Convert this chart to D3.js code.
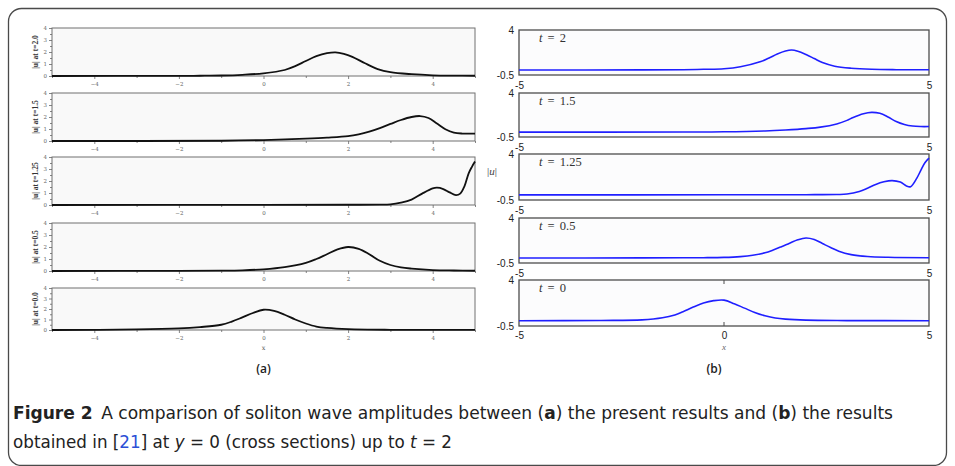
<!DOCTYPE html>
<html><head><meta charset="utf-8">
<script src="https://cdn.jsdelivr.net/npm/d3@7"></script>
<style>body{margin:0;background:#fff}svg{display:block}</style>
</head><body>
<svg id="fig" width="955" height="466"></svg>
<script>
// ---- (a) present results: |u| at y = 0, one panel per time ----
const presentLabels = ["|u| at t=2.0", "|u| at t=1.5", "|u| at t=1.25", "|u| at t=0.5", "|u| at t=0.0"];
const presentT20x = [-5, -2, -1.5, -1, -0.5, 0, 0.5, 0.75, 1.0, 1.25, 1.5, 1.7, 1.9, 2.1, 2.4, 2.7, 3.0, 3.5, 4.0, 4.5, 5];
const presentT20y = [0, 0.01, 0.02, 0.04, 0.1, 0.22, 0.5, 0.82, 1.25, 1.65, 1.9, 1.97, 1.85, 1.6, 1.06, 0.58, 0.32, 0.15, 0.06, 0.03, 0.02];
const presentT15x = [-5, -1, 0, 1, 1.5, 2, 2.25, 2.5, 2.75, 3.0, 3.25, 3.5, 3.7, 3.9, 4.1, 4.3, 4.5, 4.7, 5];
const presentT15y = [0, 0.02, 0.08, 0.2, 0.28, 0.4, 0.55, 0.78, 1.08, 1.42, 1.75, 2.0, 2.08, 1.92, 1.45, 0.98, 0.7, 0.62, 0.62];
const presentT125x = [-5, 0, 2, 2.75, 3.0, 3.25, 3.5, 3.75, 4.0, 4.1, 4.25, 4.4, 4.55, 4.65, 4.75, 4.85, 4.93, 5];
const presentT125y = [0, 0.01, 0.02, 0.03, 0.06, 0.2, 0.45, 0.95, 1.38, 1.44, 1.33, 1.05, 0.83, 0.95, 1.55, 2.64, 3.2, 3.62];
const presentT05x = [-5, -2, -1, -0.5, 0, 0.5, 1.0, 1.25, 1.5, 1.75, 2.0, 2.25, 2.5, 2.75, 3.0, 3.25, 3.5, 4.0, 4.5, 5];
const presentT05y = [0, 0.01, 0.03, 0.06, 0.14, 0.32, 0.68, 1.0, 1.4, 1.8, 2.0, 1.85, 1.4, 0.85, 0.5, 0.3, 0.2, 0.08, 0.04, 0.02];
const presentT00x = [-5, -3, -2, -1.5, -1, -0.75, -0.5, -0.25, 0, 0.25, 0.5, 0.75, 1.0, 1.25, 1.5, 2, 3, 5];
const presentT00y = [0, 0.05, 0.15, 0.28, 0.5, 0.8, 1.2, 1.62, 1.93, 1.82, 1.45, 1.0, 0.62, 0.33, 0.2, 0.08, 0.02, 0.01];

// ---- (b) results of [21] ----
const referenceLabels = ["2", "1.5", "1.25", "0.5", "0"];
const referenceT2x = [-5, -2, -1, -0.5, 0, 0.4, 0.9, 1.1, 1.3, 1.5, 1.65, 1.8, 2.0, 2.2, 2.4, 2.7, 3.1, 3.6, 4.2, 5];
const referenceT2y = [0, 0.01, 0.03, 0.07, 0.13, 0.33, 0.85, 1.2, 1.6, 1.9, 2.0, 1.88, 1.55, 1.15, 0.74, 0.38, 0.18, 0.07, 0.03, 0.02];
const referenceT15x = [-5, -1, 0, 1, 1.5, 2.0, 2.35, 2.75, 3.0, 3.15, 3.4, 3.6, 3.8, 4.0, 4.2, 4.4, 4.6, 4.8, 5];
const referenceT15y = [0, 0.01, 0.03, 0.12, 0.22, 0.36, 0.51, 0.84, 1.2, 1.5, 1.88, 2.02, 1.92, 1.55, 1.08, 0.78, 0.62, 0.57, 0.57];
const referenceT125x = [-5, 0, 2, 2.75, 3.0, 3.3, 3.5, 3.7, 3.9, 4.1, 4.3, 4.45, 4.55, 4.7, 4.8, 4.9, 5];
const referenceT125y = [0, 0.01, 0.02, 0.04, 0.08, 0.33, 0.65, 1.02, 1.28, 1.4, 1.25, 0.88, 0.8, 1.62, 2.4, 3.15, 3.6];
const referenceT05x = [-5, -2, -1, -0.5, 0, 0.4, 0.7, 1.0, 1.2, 1.4, 1.6, 1.8, 2.0, 2.2, 2.4, 2.6, 2.8, 3.1, 3.5, 4, 5];
const referenceT05y = [0, 0.01, 0.02, 0.03, 0.06, 0.14, 0.27, 0.52, 0.8, 1.13, 1.48, 1.82, 2.0, 1.85, 1.45, 1.05, 0.68, 0.34, 0.15, 0.07, 0.03];
const referenceT0x = [-5, -3, -2, -1.5, -1.2, -1.0, -0.75, -0.5, -0.25, 0, 0.25, 0.5, 0.75, 1.0, 1.25, 1.5, 2, 3, 5];
const referenceT0y = [0.02, 0.04, 0.1, 0.3, 0.58, 0.9, 1.35, 1.75, 1.98, 2.03, 1.68, 1.25, 0.82, 0.5, 0.28, 0.17, 0.07, 0.03, 0.02];

// ---- axis ticks ----
const presentXTicks = [-4, -2, 0, 2, 4];
const presentXMinor = [-5, -3, -1, 1, 3, 5];
const presentYTicks = [0, 1, 2, 3, 4];
const presentYMinor = [0.5, 1.5, 2.5, 3.5];
const referenceYTicks = [-0.5, 4];
const referenceXTicks = [-5, 5];
const referenceXTicksBottom = [-5, 0, 5];

const zip = (xs, ys) => xs.map((x, i) => ({ x, y: ys[i] }));
const presentSeries = [
  zip(presentT20x, presentT20y), zip(presentT15x, presentT15y), zip(presentT125x, presentT125y),
  zip(presentT05x, presentT05y), zip(presentT00x, presentT00y)
];
const referenceSeries = [
  zip(referenceT2x, referenceT2y), zip(referenceT15x, referenceT15y), zip(referenceT125x, referenceT125y),
  zip(referenceT05x, referenceT05y), zip(referenceT0x, referenceT0y)
];

const smooth = d3.curveCatmullRom.alpha(0.5);
const svg = d3.select("#fig");

// outer frame of the figure
svg.append("rect")
  .attr("x", 8.5).attr("y", 8.5).attr("width", 938).attr("height", 457).attr("rx", 13)
  .attr("fill", "none").attr("stroke", "#4a4a4a").attr("stroke-width", 1.3);

// ================= (a) =================
const aLeft = 52, aRight = 475;
const aRows = [[28, 76], [93, 141], [157, 205], [223, 271], [288, 330]];
const xA = d3.scaleLinear().domain([-5, 5]).range([aLeft, aRight]);

aRows.forEach(([top, bottom], i) => {
  const yA = d3.scaleLinear().domain([0, 4]).range([bottom, top]);
  const g = svg.append("g");
  g.append("rect").attr("x", aLeft).attr("y", top).attr("width", aRight - aLeft).attr("height", bottom - top)
    .attr("fill", "#f9f9f9").attr("stroke", "#707070").attr("stroke-width", 1);

  const styleAxis = sel => {
    sel.select(".domain").remove();
    sel.selectAll("line").attr("stroke", "#666").attr("stroke-width", 0.8);
    sel.selectAll("text").attr("font-family", "'DejaVu Serif', serif").attr("font-size", 5.5).attr("fill", "#666");
  };
  g.append("g").attr("transform", `translate(0,${bottom})`)
    .call(d3.axisBottom(xA).tickValues(presentXTicks).tickSize(3).tickPadding(3).tickFormat(d3.format("d")))
    .call(styleAxis);
  g.append("g").attr("transform", `translate(0,${bottom})`)
    .call(d3.axisBottom(xA).tickValues(presentXMinor).tickSize(2).tickFormat(""))
    .call(styleAxis);
  g.append("g").attr("transform", `translate(${aLeft},0)`)
    .call(d3.axisLeft(yA).tickValues(presentYTicks).tickSize(3).tickPadding(2).tickFormat(d3.format("d")))
    .call(styleAxis);
  g.append("g").attr("transform", `translate(${aLeft},0)`)
    .call(d3.axisLeft(yA).tickValues(presentYMinor).tickSize(2).tickFormat(""))
    .call(styleAxis);

  g.append("text")
    .attr("transform", `translate(37.5,${(top + bottom) / 2}) rotate(-90)`)
    .attr("text-anchor", "middle")
    .attr("font-family", "'Liberation Serif', serif").attr("font-weight", "bold")
    .attr("font-size", 7.5).attr("fill", "#333")
    .text(presentLabels[i]);

  const line = d3.line().x(d => xA(d.x)).y(d => yA(d.y)).curve(smooth);
  g.append("path").datum(presentSeries[i]).attr("d", line)
    .attr("fill", "none").attr("stroke", "#111").attr("stroke-width", 1.8);
});
svg.append("text").attr("x", xA(0)).attr("y", 350).attr("text-anchor", "middle")
  .attr("font-family", "'DejaVu Serif', serif").attr("font-size", 6.5).attr("fill", "#555").text("x");
svg.append("text").attr("x", xA(0)).attr("y", 373).attr("text-anchor", "middle")
  .attr("font-family", "'Open Sans', sans-serif").attr("font-weight", 600)
  .attr("font-size", 12).attr("fill", "#222").text("(a)");

// ================= (b) =================
const bLeft = 519, bRight = 929;
const bRows = [[30, 75], [93, 137], [154, 200], [218, 263], [280, 326]];
const xB = d3.scaleLinear().domain([-5, 5]).range([bLeft, bRight]);

bRows.forEach(([top, bottom], i) => {
  const yB = d3.scaleLinear().domain([-0.5, 4]).range([bottom, top]);
  const g = svg.append("g");
  g.append("rect").attr("x", bLeft).attr("y", top).attr("width", bRight - bLeft).attr("height", bottom - top)
    .attr("fill", "#fcfcfd").attr("stroke", "#4d4d4d").attr("stroke-width", 1.3);

  const styleAxis = sel => {
    sel.select(".domain").remove();
    sel.selectAll("text").attr("font-family", "'Liberation Sans', Arial, sans-serif")
      .attr("font-size", 10).attr("fill", "#222");
  };
  g.append("g").attr("transform", `translate(${bLeft},0)`)
    .call(d3.axisLeft(yB).tickValues(referenceYTicks).tickSize(0).tickPadding(5).tickFormat(d => String(d)))
    .call(styleAxis);
  const last = i === bRows.length - 1;
  g.append("g").attr("transform", `translate(0,${bottom})`)
    .call(d3.axisBottom(xB).tickValues(last ? referenceXTicksBottom : referenceXTicks)
      .tickSize(0).tickPadding(last ? 6 : 6.5).tickFormat(d => String(d)))
    .call(styleAxis);

  if (last) {
    // centre marks at x = 0
    g.append("line").attr("x1", xB(0)).attr("x2", xB(0)).attr("y1", bottom).attr("y2", bottom - 4)
      .attr("stroke", "#4d4d4d").attr("stroke-width", 1);
    g.append("line").attr("x1", xB(0)).attr("x2", xB(0)).attr("y1", top).attr("y2", top + 4)
      .attr("stroke", "#4d4d4d").attr("stroke-width", 1);
  }

  const lab = g.append("text").attr("x", 539).attr("y", top + 12)
    .attr("font-family", "'Liberation Serif', 'DejaVu Serif', serif").attr("font-size", 12.5)
    .attr("word-spacing", 2).attr("fill", "#333");
  lab.append("tspan").attr("font-style", "italic").text("t");
  lab.append("tspan").text(" = " + referenceLabels[i]);

  const line = d3.line().x(d => xB(d.x)).y(d => yB(d.y)).curve(smooth);
  g.append("path").datum(referenceSeries[i]).attr("d", line)
    .attr("fill", "none").attr("stroke", "#1f1fff").attr("stroke-width", 1.6);
});
const uLab = svg.append("text").attr("x", 492).attr("y", 175).attr("text-anchor", "middle")
  .attr("font-family", "'Liberation Serif', 'DejaVu Serif', serif").attr("font-size", 11).attr("fill", "#444");
uLab.append("tspan").text("|");
uLab.append("tspan").attr("font-style", "italic").text("u");
uLab.append("tspan").text("|");
svg.append("text").attr("x", xB(0)).attr("y", 350).attr("text-anchor", "middle")
  .attr("font-family", "'Liberation Serif', serif").attr("font-style", "italic")
  .attr("font-size", 9).attr("fill", "#666").text("x");
svg.append("text").attr("x", 714).attr("y", 373).attr("text-anchor", "middle")
  .attr("font-family", "'Open Sans', sans-serif").attr("font-weight", 600)
  .attr("font-size", 12).attr("fill", "#222").text("(b)");

// ================= caption =================
const capFont = "'Liberation Sans Narrow', 'DejaVu Sans Condensed', 'Open Sans', sans-serif";
const cap1 = svg.append("text").attr("x", 13).attr("y", 419)
  .attr("font-family", capFont).attr("font-size", 18.5).attr("fill", "#222")
  .attr("textLength", 880).attr("lengthAdjust", "spacingAndGlyphs");
cap1.append("tspan").attr("font-weight", "bold").text("Figure 2");
cap1.append("tspan").text("\u2002A comparison of soliton wave amplitudes between (");
cap1.append("tspan").attr("font-weight", "bold").text("a");
cap1.append("tspan").text(") the present results and (");
cap1.append("tspan").attr("font-weight", "bold").text("b");
cap1.append("tspan").text(") the results");

const cap2 = svg.append("text").attr("x", 13).attr("y", 448)
  .attr("font-family", capFont).attr("font-size", 18.5).attr("fill", "#222")
  .attr("textLength", 439).attr("lengthAdjust", "spacingAndGlyphs");
cap2.append("tspan").text("obtained in [");
cap2.append("tspan").attr("fill", "#2b4fd6").text("21");
cap2.append("tspan").text("] at ");
cap2.append("tspan").attr("font-style", "italic").text("y");
cap2.append("tspan").text(" = 0 (cross sections) up to ");
cap2.append("tspan").attr("font-style", "italic").text("t");
cap2.append("tspan").text(" = 2");
</script>
</body></html>
